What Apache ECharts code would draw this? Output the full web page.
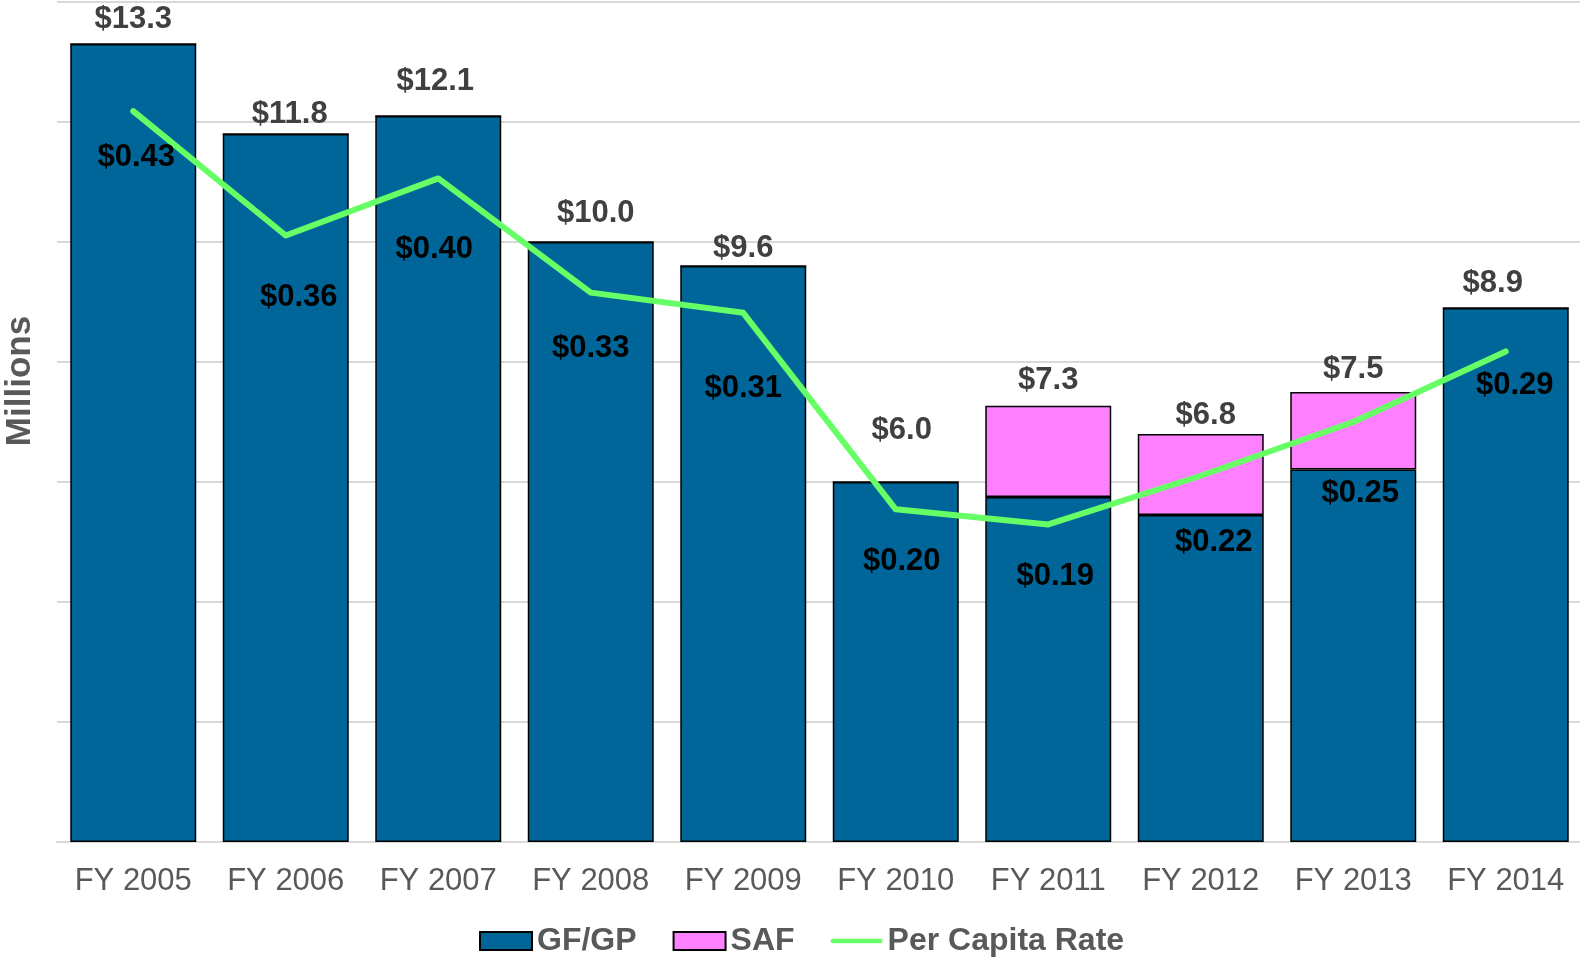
<!DOCTYPE html>
<html>
<head>
<meta charset="utf-8">
<style>
  html, body { margin: 0; padding: 0; background: #fff; }
  #chart-container { width: 1580px; height: 957px; }
</style>
<script src="https://cdn.jsdelivr.net/npm/echarts@6/dist/echarts.min.js"></script>
</head>
<body>
<div id="chart-container"></div>
<script>
var dom = document.getElementById("chart-container");
var myChart = echarts.init(dom, null, { renderer: "canvas" });

// values
const years = ["FY 2005", "FY 2006", "FY 2007", "FY 2008", "FY 2009", "FY 2010", "FY 2011", "FY 2012", "FY 2013", "FY 2014"];
const gfgp = [13.3, 11.8, 12.1, 10.0, 9.6, 6.0, 5.75, 5.45, 6.21, 8.9];
const saf = [0, 0, 0, 0, 0, 0, 1.52, 1.35, 1.29, 0];
const perCapita = [0.435, 0.361, 0.395, 0.327, 0.315, 0.198, 0.189, 0.218, 0.25, 0.292];
const perCapitaLabels = ["$0.43", "$0.36", "$0.40", "$0.33", "$0.31", "$0.20", "$0.19", "$0.22", "$0.25", "$0.29"];

// hand-placed label nudges (dx, dy) as in the original
const totalLabelOffsets = [[0, -8], [4, -3], [-3, -18], [5, -12], [0, -1], [6, -35], [0, -10], [5, -3], [0, -7], [-13, -8]];
const rateLabelOffsets = [[3, 46], [13, 62], [-4, 71], [0, 56], [0, 76], [6, 52], [7, 52], [13, 67], [7, 71], [9, 34]];

const fontName = "Liberation Sans, Arial, sans-serif";
const gray = "#595959";

var option = {
  animation: false,
  grid: { left: 57, right: -2, top: 2, bottom: 115, outerBoundsMode: "none" },
  graphic: [
    {
      type: "text",
      x: 20,
      y: 381,
      rotation: Math.PI / 2,
      style: {
        text: "Millions",
        fontFamily: fontName,
        fontSize: 35,
        fontWeight: "bold",
        fill: gray,
        align: "center",
        verticalAlign: "middle"
      }
    }
  ],
  legend: {
    left: 474,
    bottom: -5,
    itemWidth: 52,
    itemHeight: 18,
    itemGap: 36,
    textStyle: { fontFamily: fontName, fontSize: 32, fontWeight: "bold", color: gray },
    data: [
      { name: "GF/GP", icon: "rect" },
      { name: "SAF", icon: "rect" },
      { name: "Per Capita Rate", icon: "path://M2,0 L53,0 A2.5,2.5 0 0 1 53,5 L2,5 A2.5,2.5 0 0 1 2,0 Z" }
    ]
  },
  xAxis: {
    type: "category",
    data: years,
    axisTick: { show: false },
    axisLine: { lineStyle: { color: "#D9D9D9", width: 2 } },
    axisLabel: { margin: 24, fontFamily: fontName, fontSize: 31, color: gray }
  },
  yAxis: [
    {
      type: "value",
      min: 0,
      max: 14,
      interval: 2,
      axisLabel: { show: false },
      axisLine: { show: false },
      axisTick: { show: false },
      splitLine: { lineStyle: { color: "#D9D9D9", width: 2 } }
    },
    {
      type: "value",
      min: 0,
      max: 0.5,
      show: false,
      splitLine: { show: false }
    }
  ],
  series: [
    {
      name: "GF/GP",
      type: "bar",
      stack: "total",
      barCategoryGap: "17.4%",
      itemStyle: { color: "#006699", borderColor: "#000", borderWidth: 1.5 },
      data: gfgp
    },
    {
      name: "SAF",
      type: "bar",
      stack: "total",
      itemStyle: { color: "#FF80FF", borderColor: "#000", borderWidth: 1.5 },
      data: saf.map((v, i) => ({
        value: v,
        label: {
          show: true,
          position: "top",
          distance: 0,
          offset: totalLabelOffsets[i],
          fontFamily: fontName,
          fontSize: 31,
          fontWeight: "bold",
          color: "#404040",
          formatter: "$" + (gfgp[i] + v).toFixed(1)
        }
      }))
    },
    {
      name: "Per Capita Rate",
      type: "line",
      yAxisIndex: 1,
      symbol: "circle",
      symbolSize: 0,
      showSymbol: true,
      lineStyle: { color: "#66FF66", width: 6, cap: "round", join: "round" },
      itemStyle: { color: "#66FF66" },
      z: 5,
      data: perCapita.map((v, i) => ({
        value: v,
        label: {
          show: true,
          position: "inside",
          offset: rateLabelOffsets[i],
          fontFamily: fontName,
          fontSize: 31,
          fontWeight: "bold",
          color: "#000",
          formatter: perCapitaLabels[i]
        }
      }))
    }
  ]
};

myChart.setOption(option);
window.addEventListener("resize", myChart.resize);
</script>
</body>
</html>
